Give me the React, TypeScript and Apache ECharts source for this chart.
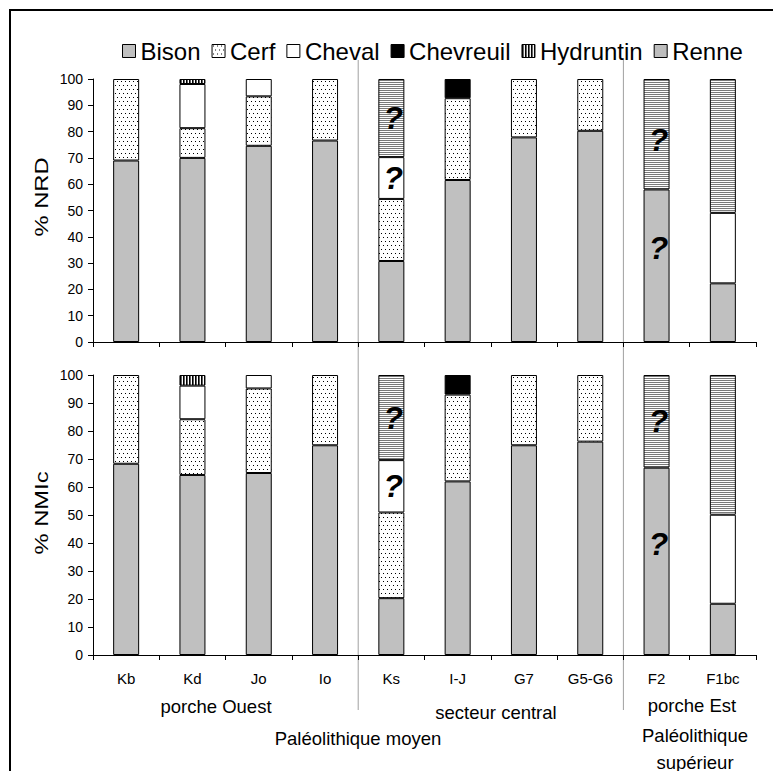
import { useEffect, useRef } from 'react';
import * as echarts from 'echarts';

const categories = ['Kb', 'Kd', 'Jo', 'Io', 'Ks', 'I-J', 'G7', 'G5-G6', 'F2', 'F1bc'];
const speciesNames = ['Bison', 'Cerf', 'Cheval', 'Chevreuil', 'Hydruntin', 'Renne'];
const yTickLabels = ['0', '10', '20', '30', '40', '50', '60', '70', '80', '90', '100'];

// % NRD (top panel)
const nrdBison = [69, 70, 74.6, 76.6, 30.8, 61.6, 77.8, 80.3, 58, 22.3];
const nrdCerf = [31, 11.3, 18.8, 23.4, 23.6, 31.1, 22.2, 19.7, 0, 0];
const nrdCheval = [0, 16.8, 6.6, 0, 15.9, 0, 0, 0, 0, 26.8];
const nrdChevreuil = [0, 0, 0, 0, 0, 7.3, 0, 0, 0, 0];
const nrdHydruntin = [0, 1.9, 0, 0, 0, 0, 0, 0, 0, 0];
const nrdRenne = [0, 0, 0, 0, 29.7, 0, 0, 0, 42, 50.9];

// % NMIc (bottom panel)
const nmicBison = [68.3, 64.3, 65, 74.9, 20.3, 62, 74.9, 76.2, 66.9, 18.3];
const nmicCerf = [31.7, 19.9, 30.2, 25.1, 30.6, 31, 25.1, 23.8, 0, 0];
const nmicCheval = [0, 12, 4.8, 0, 18.7, 0, 0, 0, 0, 31.8];
const nmicChevreuil = [0, 0, 0, 0, 0, 7, 0, 0, 0, 0];
const nmicHydruntin = [0, 3.8, 0, 0, 0, 0, 0, 0, 0, 0];
const nmicRenne = [0, 0, 0, 0, 30.4, 0, 0, 0, 33.1, 49.9];

const panelNames = ['% NRD', '% NMIc'];
const panelData = [
  [nrdBison, nrdCerf, nrdCheval, nrdChevreuil, nrdHydruntin, nrdRenne],
  [nmicBison, nmicCerf, nmicCheval, nmicChevreuil, nmicHydruntin, nmicRenne],
];

// segments marked with "?"
const questionMarks = [
  { panel: 0, species: 'Renne', category: 'Ks', dy: 0 },
  { panel: 0, species: 'Cheval', category: 'Ks', dy: 0 },
  { panel: 0, species: 'Renne', category: 'F2', dy: 6 },
  { panel: 0, species: 'Bison', category: 'F2', dy: -18 },
  { panel: 1, species: 'Renne', category: 'Ks', dy: 0 },
  { panel: 1, species: 'Cheval', category: 'Ks', dy: 0 },
  { panel: 1, species: 'Renne', category: 'F2', dy: 0 },
  { panel: 1, species: 'Bison', category: 'F2', dy: -17 },
];

const FONT = 'Arial, Liberation Sans, Helvetica, sans-serif';

function tile(w: number, h: number, paint: (ctx: CanvasRenderingContext2D) => void) {
  const c = document.createElement('canvas');
  c.width = w;
  c.height = h;
  const ctx = c.getContext('2d')!;
  paint(ctx);
  return { image: c, repeat: 'repeat', imageWidth: w, imageHeight: h } as any;
}

export default function App() {
  const ref = useRef<HTMLDivElement>(null);

  useEffect(() => {
    if (!ref.current) return;
    const chart = echarts.init(ref.current, undefined, { renderer: 'svg' });

    const dots = tile(4, 8, (ctx) => {
      ctx.fillStyle = '#ffffff';
      ctx.fillRect(0, 0, 4, 8);
      ctx.fillStyle = '#000000';
      ctx.fillRect(1, 1, 1, 1);
      ctx.fillRect(3, 5, 1, 1);
    });
    const hstripes = tile(1, 2, (ctx) => {
      ctx.fillStyle = '#7a7a7a';
      ctx.fillRect(0, 0, 1, 1);
      ctx.fillStyle = '#ffffff';
      ctx.fillRect(0, 1, 1, 1);
    });
    const vstripes = tile(3, 1, (ctx) => {
      ctx.fillStyle = '#000000';
      ctx.fillRect(0, 0, 1, 1);
      ctx.fillStyle = '#606060';
      ctx.fillRect(1, 0, 1, 1);
      ctx.fillStyle = '#ffffff';
      ctx.fillRect(2, 0, 1, 1);
    });
    const fills: any[] = ['#c0c0c0', dots, '#ffffff', '#000000', vstripes, hstripes];

    const grids = [
      { left: 93, top: 79, width: 663, height: 263 },
      { left: 93, top: 375, width: 663, height: 280 },
    ];

    const xAxes = grids.map((_, p) => ({
      type: 'category',
      gridIndex: p,
      data: categories,
      axisLine: { show: true, lineStyle: { color: '#000', width: 1 } },
      axisTick: { show: true, length: 5, lineStyle: { color: '#000' } },
      axisLabel: {
        show: p === 1,
        color: '#000',
        fontSize: 15,
        fontFamily: FONT,
        margin: 16,
      },
      splitLine: { show: false },
    }));

    const yAxes = grids.map((_, p) => ({
      type: 'value',
      gridIndex: p,
      min: 0,
      max: 100,
      interval: 10,
      axisLine: { show: true, lineStyle: { color: '#000', width: 1 } },
      axisTick: { show: true, length: 5, lineStyle: { color: '#000' } },
      axisLabel: {
        color: '#000',
        fontSize: 14,
        fontFamily: FONT,
        margin: 10,
        formatter: (v: number) => yTickLabels[Math.round(v / 10)] ?? String(v),
      },
      splitLine: { show: false },
    }));

    const series: any[] = [];
    panelData.forEach((speciesValues, p) => {
      speciesValues.forEach((values, s) => {
        const name = speciesNames[s];
        series.push({
          name,
          type: 'bar',
          xAxisIndex: p,
          yAxisIndex: p,
          stack: 'panel' + p,
          barWidth: 26,
          itemStyle: { color: fills[s], borderColor: '#000', borderWidth: 1 },
          data: values.map((v, i) => {
            if (!v) return null;
            const q = questionMarks.find(
              (m) => m.panel === p && m.species === name && m.category === categories[i]
            );
            if (!q) return v;
            return {
              value: v,
              label: {
                show: true,
                formatter: '?',
                position: 'inside',
                offset: [2, q.dy],
                color: '#000',
                fontSize: 32,
                fontWeight: 'bold',
                fontStyle: 'italic',
                fontFamily: FONT,
                textBorderWidth: 0,
                textBorderColor: 'transparent',
              },
            };
          }),
        });
      });
    });

    chart.setOption({
      animation: false,
      backgroundColor: '#ffffff',
      legend: {
        data: speciesNames,
        left: 117,
        top: 34,
        icon: 'rect',
        itemWidth: 13,
        itemHeight: 13,
        itemGap: 11,
        selectedMode: false,
        itemStyle: { borderColor: '#000', borderWidth: 1 },
        textStyle: { color: '#000', fontSize: 24, fontFamily: FONT },
      },
      grid: grids,
      xAxis: xAxes,
      yAxis: yAxes,
      series,
    } as any);

    const px = (cat: string) => (chart.convertToPixel({ xAxisIndex: 1 }, cat) as any) as number;
    const sep1 = (px('Io') + px('Ks')) / 2;
    const sep2 = (px('G5-G6') + px('F2')) / 2;

    const textStyle = (text: string, size: number) => ({
      text,
      fill: '#000',
      font: `${size}px ${FONT}`,
      textAlign: 'center',
      textVerticalAlign: 'middle',
    });

    chart.setOption({
      graphic: [
        {
          type: 'rect',
          shape: { x: 10, y: 10, width: 800, height: 800 },
          style: { fill: 'none', stroke: '#000', lineWidth: 2 },
          silent: true,
        },
        {
          type: 'line',
          shape: { x1: sep1, y1: 60, x2: sep1, y2: 710 },
          style: { stroke: '#a0a0a0', lineWidth: 1 },
        },
        {
          type: 'line',
          shape: { x1: sep2, y1: 60, x2: sep2, y2: 710 },
          style: { stroke: '#a0a0a0', lineWidth: 1 },
        },
        {
          type: 'text',
          x: 42,
          y: 197,
          rotation: Math.PI / 2,
          scaleX: 1.25,
          style: textStyle(panelNames[0], 19),
        },
        {
          type: 'text',
          x: 42,
          y: 513,
          rotation: Math.PI / 2,
          scaleX: 1.25,
          style: textStyle(panelNames[1], 19),
        },
        { type: 'text', x: 216, y: 706, style: textStyle('porche Ouest', 18.5) },
        { type: 'text', x: 496, y: 712, style: textStyle('secteur central', 18.5) },
        { type: 'text', x: 692, y: 705, style: textStyle('porche Est', 18.5) },
        { type: 'text', x: 358, y: 738, style: textStyle('Paléolithique moyen', 18.5) },
        { type: 'text', x: 695, y: 735, style: textStyle('Paléolithique', 18.5) },
        { type: 'text', x: 695, y: 762, style: textStyle('supérieur', 18.5) },
      ],
    } as any);

    return () => chart.dispose();
  }, []);

  return (
    <div
      ref={ref}
      style={{ position: 'absolute', left: 0, top: 0, width: 773, height: 771 }}
    />
  );
}
